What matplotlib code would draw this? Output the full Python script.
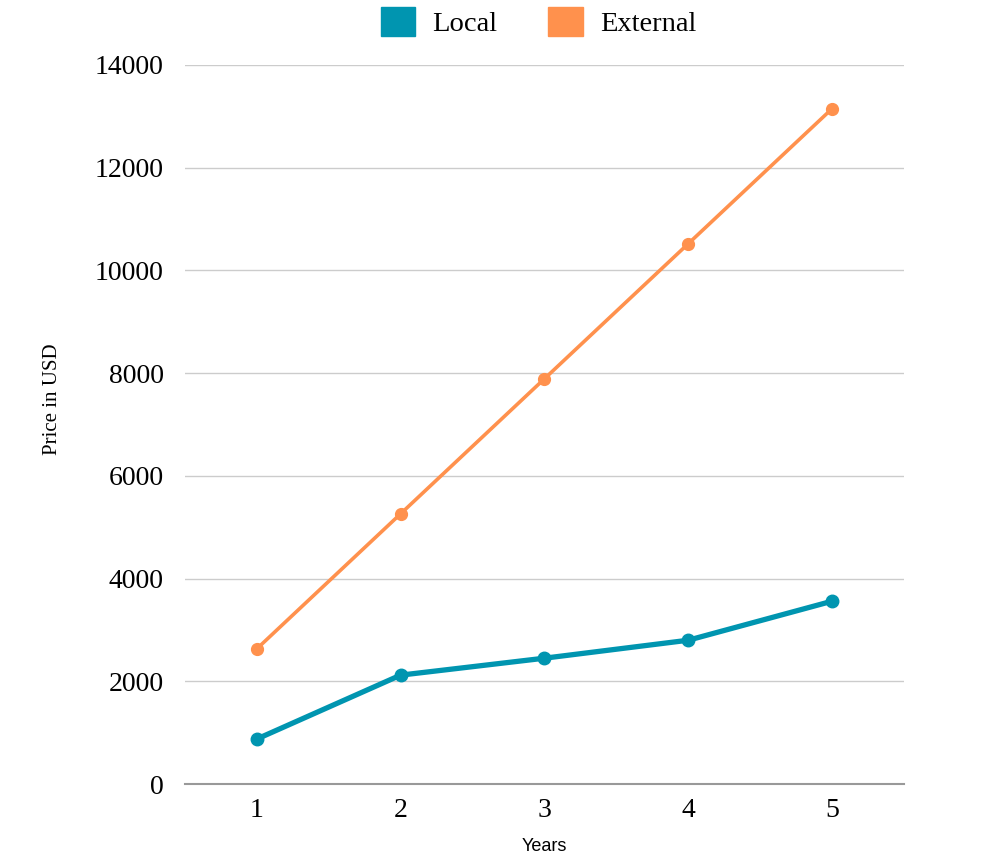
import matplotlib.pyplot as plt
from matplotlib.patches import Patch

years = [1, 2, 3, 4, 5]
local_price = [875, 2120, 2450, 2800, 3560]
external_price = [2630, 5260, 7890, 10520, 13150]
y_ticks = [0, 2000, 4000, 6000, 8000, 10000, 12000, 14000]

LOCAL_COLOR = '#0095b0'
EXTERNAL_COLOR = '#ff914d'

plt.rcParams['font.family'] = 'Liberation Serif'

fig = plt.figure(figsize=(9.88, 8.55), dpi=100)
ax = fig.add_axes([0.187, 0.083, 0.728, 0.841])

ax.plot(years, external_price, color=EXTERNAL_COLOR, linewidth=2.6,
        marker='o', markersize=8.5, zorder=3)
ax.plot(years, local_price, color=LOCAL_COLOR, linewidth=3.8,
        marker='o', markersize=9, zorder=4)

ax.set_xlim(0.5, 5.5)
ax.set_ylim(0, 14000)
ax.set_xticks(years)
ax.set_yticks(y_ticks)
ax.tick_params(axis='both', length=0, labelsize=20)
ax.tick_params(axis='x', pad=10)
ax.tick_params(axis='y', pad=15)

ax.grid(axis='y', color='#cccccc', linewidth=1)
ax.set_axisbelow(True)
for side in ['top', 'right', 'left']:
    ax.spines[side].set_visible(False)
ax.spines['bottom'].set_color('#999999')
ax.spines['bottom'].set_linewidth(1.5)

ax.set_xlabel('Years', family='Liberation Sans', fontsize=13, labelpad=11)
ax.set_ylabel('Price in USD', fontsize=15, labelpad=24, y=0.535)

handles = [Patch(color=LOCAL_COLOR, label='Local'),
           Patch(color=EXTERNAL_COLOR, label='External')]
fig.legend(handles=handles, loc='upper center', bbox_to_anchor=(0.545, 1.022),
           ncol=2, frameon=False, fontsize=20.5, handlelength=1.2,
           handleheight=1.2, columnspacing=1.8, handletextpad=0.6)

fig.savefig('out.png', dpi=100)
